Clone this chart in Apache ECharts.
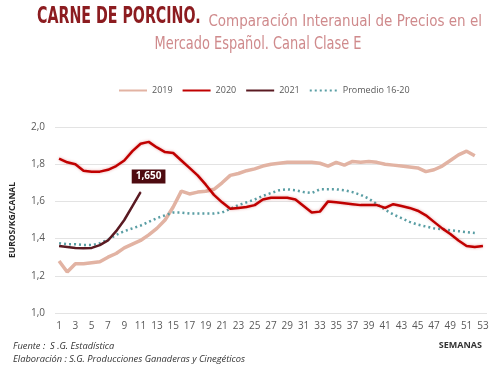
<!DOCTYPE html>
<html>
<head>
<meta charset="utf-8">
<script src="https://cdn.jsdelivr.net/npm/echarts@6/dist/echarts.min.js"></script>
<style>
html,body{margin:0;padding:0;background:#fff;}
#chart{width:500px;height:373px;}
</style>
</head>
<body>
<div id="chart"></div>
<script>
const weeks = Array.from({length: 53}, (_, i) => String(i + 1));
const yTicks = ['1,0','1,2','1,4','1,6','1,8','2,0'];
const data2019 = [1.28,1.22,1.265,1.265,1.27,1.275,1.30,1.32,1.35,1.37,1.39,1.42,1.455,1.50,1.57,1.655,1.64,1.65,1.655,1.665,1.70,1.74,1.75,1.765,1.775,1.79,1.80,1.805,1.81,1.81,1.81,1.81,1.805,1.79,1.81,1.795,1.815,1.81,1.815,1.81,1.80,1.795,1.79,1.785,1.78,1.76,1.77,1.79,1.82,1.85,1.87,1.845];
const data2020 = [1.83,1.81,1.80,1.765,1.76,1.76,1.77,1.79,1.82,1.87,1.91,1.92,1.89,1.865,1.86,1.82,1.78,1.74,1.69,1.635,1.595,1.56,1.565,1.57,1.58,1.61,1.62,1.62,1.62,1.61,1.575,1.54,1.545,1.60,1.595,1.59,1.585,1.58,1.58,1.58,1.565,1.585,1.575,1.565,1.55,1.525,1.49,1.455,1.425,1.39,1.36,1.355,1.36];
const data2021 = [1.36,1.355,1.35,1.348,1.35,1.365,1.39,1.44,1.50,1.575,1.65];
const dataProm = [1.375,1.37,1.37,1.365,1.365,1.375,1.395,1.42,1.44,1.455,1.47,1.49,1.51,1.525,1.54,1.54,1.535,1.535,1.535,1.535,1.54,1.56,1.58,1.595,1.61,1.63,1.645,1.66,1.665,1.66,1.65,1.645,1.665,1.665,1.665,1.66,1.65,1.635,1.615,1.585,1.555,1.53,1.51,1.49,1.475,1.465,1.455,1.45,1.445,1.44,1.435,1.43];

const chart = echarts.init(document.getElementById('chart'));
const fmt = v => v.toFixed(3).replace('.', ',');
const condensed = '"DejaVu Sans Condensed", "Liberation Sans Narrow", sans-serif';
const d2021 = data2021.map((v, i) => i === data2021.length - 1 ? {
  value: v,
  symbol: 'circle', symbolSize: 1,
  label: {
    show: true, position: 'top', distance: 8, offset: [8, 0],
    formatter: p => fmt(p.value),
    color: '#fff', fontWeight: 'bold', fontSize: 10, fontFamily: 'Open Sans',
    backgroundColor: '#4e0b10', padding: [2, 4]
  }
} : v);

chart.setOption({
  animation: false,
  backgroundColor: '#fff',
  graphic: [
    { type: 'text', x: 37, y: 6, scaleX: 0.79, scaleY: 1.15,
      style: { text: 'CARNE DE PORCINO.', fontFamily: condensed, fontSize: 20, fontWeight: 'bold',
        fill: '#8c1c20', align: 'left', verticalAlign: 'top' } },
    { type: 'text', x: 482, y: 13, scaleX: 1.0, scaleY: 1.1,
      style: { text: 'Comparación Interanual de Precios en el', fontFamily: condensed, fontSize: 15,
        fill: '#cf8a8c', align: 'right', verticalAlign: 'top' } },
    { type: 'text', x: 258, y: 36, scaleX: 0.96, scaleY: 1.15,
      style: { text: 'Mercado Español. Canal Clase E', fontFamily: condensed, fontSize: 15,
        fill: '#cf8a8c', align: 'center', verticalAlign: 'top' } },
    { type: 'text', left: 13, top: 342,
      style: { text: 'Fuente :  S .G. Estadística', fontFamily: 'Open Sans', fontStyle: 'italic', fontSize: 9.3, fill: '#333' } },
    { type: 'text', left: 13, top: 355,
      style: { text: 'Elaboración : S.G. Producciones Ganaderas y Cinegéticos', fontFamily: 'Open Sans', fontStyle: 'italic', fontSize: 9.3, fill: '#333' } },
    { type: 'text', right: 18, top: 341,
      style: { text: 'SEMANAS', fontFamily: 'Open Sans', fontWeight: 'bold', fontSize: 9, fill: '#333' } }
  ],
  legend: {
    left: 113, top: 81, itemWidth: 28, itemHeight: 10, itemGap: 9,
    itemStyle: { opacity: 0 },
    textStyle: { color: '#595959', fontSize: 9, fontFamily: 'Open Sans' },
    data: ['2019', '2020', '2021', 'Promedio 16-20']
  },
  grid: { left: 52, right: 13, top: 127, bottom: 60 },
  xAxis: {
    type: 'category', data: weeks, boundaryGap: true,
    axisLine: { show: false }, axisTick: { show: false },
    axisLabel: { interval: 1, color: '#595959', fontSize: 10, fontFamily: 'Open Sans', margin: 8 }
  },
  yAxis: {
    type: 'value', min: 1.0, max: 2.0, interval: 0.2,
    name: 'EUROS/KG/CANAL', nameLocation: 'middle', nameGap: 38, nameRotate: 90,
    nameTextStyle: { fontWeight: 'bold', fontSize: 8.5, color: '#262626', fontFamily: 'Open Sans' },
    axisLabel: { color: '#595959', fontSize: 10, fontFamily: 'Open Sans', margin: 10,
      formatter: v => yTicks[Math.round((v - 1) / 0.2)] },
    splitLine: { lineStyle: { color: '#e3e3e3', width: 1 } }
  },
  series: [
    { name: '2019', type: 'line', data: data2019, symbol: 'none', z: 1,
      lineStyle: { color: '#e2b3a3', width: 3.5 }, itemStyle: { color: '#e2b3a3' } },
    { name: '2020', type: 'line', data: data2020, symbol: 'none', z: 3,
      lineStyle: { color: '#c00000', width: 2.5, shadowColor: 'rgba(192,0,0,0.35)', shadowBlur: 3 }, itemStyle: { color: '#c00000' } },
    { name: '2021', type: 'line', data: d2021, symbol: 'none', z: 4,
      lineStyle: { color: '#5a1a22', width: 2.5 }, itemStyle: { color: '#5a1a22' } },
    { name: 'Promedio 16-20', type: 'line', data: dataProm, symbol: 'none', z: 2,
      lineStyle: { color: '#5a9ea4', width: 2.5, type: [2, 3] }, itemStyle: { color: '#5a9ea4' } }
  ]
});
</script>
</body>
</html>
